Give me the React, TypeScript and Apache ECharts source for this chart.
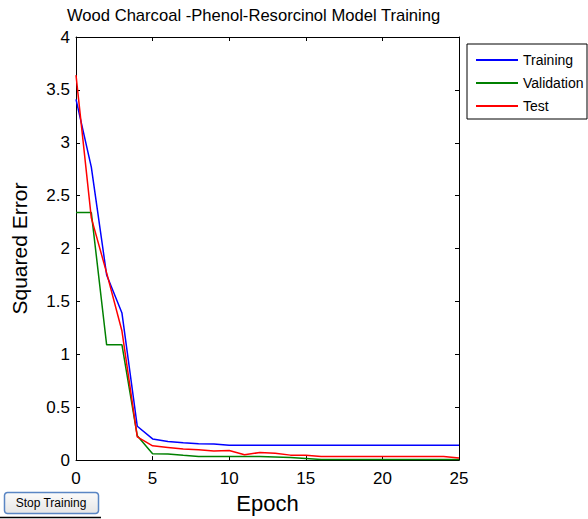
import React, { useEffect, useRef } from "react";
import * as echarts from "echarts";

// Error per training epoch for the three data splits
const epochs: number[] = Array.from({ length: 26 }, (_, i) => i);
const trainingError = [
  3.41, 2.77, 1.75, 1.39, 0.32, 0.2, 0.176, 0.165, 0.155, 0.153, 0.14, 0.14, 0.14,
  0.14, 0.14, 0.14, 0.14, 0.14, 0.14, 0.14, 0.14, 0.14, 0.14, 0.14, 0.14, 0.14,
];
const validationError = [
  2.34, 2.34, 1.09, 1.09, 0.23, 0.06, 0.058, 0.045, 0.035, 0.035, 0.035, 0.035, 0.033,
  0.03, 0.025, 0.016, 0.005, 0.005, 0.005, 0.005, 0.005, 0.005, 0.005, 0.005, 0.005, 0.005,
];
const testError = [
  3.64, 2.29, 1.77, 1.22, 0.22, 0.135, 0.12, 0.105, 0.097, 0.085, 0.09, 0.05, 0.072,
  0.065, 0.047, 0.047, 0.035, 0.035, 0.035, 0.035, 0.035, 0.035, 0.035, 0.035, 0.035, 0.02,
];
const seriesNames = ["Training", "Validation", "Test"];
const seriesColors = ["#0000ff", "#008000", "#ff0000"];

const FONT = "Liberation Sans, Arial, Helvetica, sans-serif";

const pairs = (ys: number[]) => epochs.map((x, i) => [x, ys[i]]);

export default function App() {
  const ref = useRef<HTMLDivElement>(null);

  useEffect(() => {
    if (!ref.current) return;
    const chart = echarts.init(ref.current, null, { renderer: "svg" });

    const axisBase = {
      type: "value" as const,
      axisLine: { show: true, onZero: false, lineStyle: { color: "#000", width: 1 } },
      axisTick: { show: true, inside: true, length: 4, lineStyle: { color: "#000" } },
      splitLine: { show: false },
    };

    chart.setOption({
      animation: false,
      backgroundColor: "#fff",
      title: {
        text: "Wood Charcoal -Phenol-Resorcinol Model Training",
        left: 67,
        top: 7,
        padding: 0,
        textStyle: { fontFamily: FONT, fontSize: 16.6, fontWeight: "normal", color: "#000" },
      },
      grid: { left: 76, top: 37, right: 129, bottom: 58, containLabel: false },
      legend: {
        orient: "vertical",
        left: 476,
        top: 52,
        padding: 0,
        itemWidth: 42,
        itemHeight: 2,
        itemGap: 7,
        icon: "rect",
        data: seriesNames,
        textStyle: { fontFamily: FONT, fontSize: 14, color: "#000", lineHeight: 16 },
        selectedMode: false,
      },
      xAxis: [
        {
          ...axisBase,
          position: "bottom",
          min: 0,
          max: 25,
          interval: 5,
          name: "Epoch",
          nameLocation: "middle",
          nameGap: 31,
          nameTextStyle: { fontFamily: FONT, fontSize: 22, color: "#000" },
          axisLabel: { fontFamily: FONT, fontSize: 17, color: "#000", margin: 10 },
        },
        {
          ...axisBase,
          position: "top",
          min: 0,
          max: 25,
          interval: 5,
          axisLabel: { show: false },
        },
      ],
      yAxis: [
        {
          ...axisBase,
          position: "left",
          min: 0,
          max: 4,
          interval: 0.5,
          name: "Squared Error",
          nameLocation: "middle",
          nameGap: 46,
          nameTextStyle: { fontFamily: FONT, fontSize: 21, color: "#000" },
          axisLabel: { fontFamily: FONT, fontSize: 17, color: "#000", margin: 6 },
        },
        {
          ...axisBase,
          position: "right",
          min: 0,
          max: 4,
          interval: 0.5,
          axisLabel: { show: false },
        },
      ],
      series: [trainingError, validationError, testError].map((ys, i) => ({
        name: seriesNames[i],
        type: "line",
        data: pairs(ys),
        showSymbol: false,
        symbol: "none",
        color: seriesColors[i],
        lineStyle: { color: seriesColors[i], width: 1.5 },
      })),
      graphic: [
        {
          type: "rect",
          shape: { x: 467, y: 44, width: 120, height: 75 },
          style: { fill: "none", stroke: "#000", lineWidth: 1 },
          silent: true,
        },
        {
          type: "rect",
          shape: { x: 4.5, y: 492.5, width: 94, height: 21, r: 3 },
          style: {
            fill: new echarts.graphic.LinearGradient(0, 0, 0, 1, [
              { offset: 0, color: "#fbfbfb" },
              { offset: 1, color: "#e6e6e6" },
            ]),
            stroke: "#5a86c4",
            lineWidth: 1.5,
          },
          silent: true,
        },
        {
          type: "text",
          x: 51,
          y: 503,
          style: {
            text: "Stop Training",
            fontFamily: FONT,
            fontSize: 12,
            fill: "#000",
            align: "center",
            verticalAlign: "middle",
          },
          silent: true,
        },
        {
          type: "line",
          shape: { x1: 0, y1: 517.5, x2: 101, y2: 517.5 },
          style: { stroke: "#000", lineWidth: 1.5 },
          silent: true,
        },
      ],
    });

    return () => chart.dispose();
  }, []);

  return (
    <div
      ref={ref}
      style={{ position: "fixed", left: 0, top: 0, width: 588, height: 519, background: "#fff" }}
    />
  );
}
